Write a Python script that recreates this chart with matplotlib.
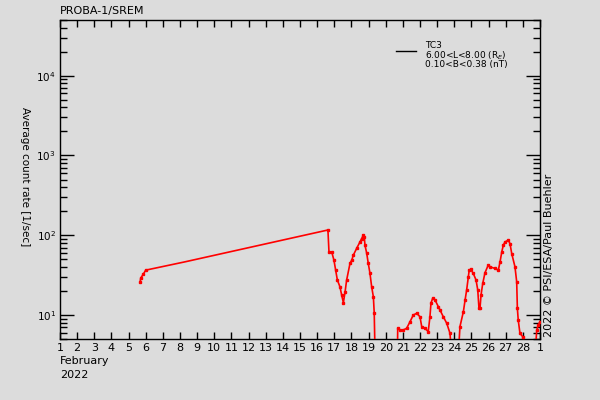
import math
import matplotlib
matplotlib.use('Agg')
import matplotlib.pyplot as plt
from matplotlib.lines import Line2D
from matplotlib.ticker import FixedLocator, LogLocator, NullFormatter, FuncFormatter

# day of February 2022 (29 = 1 March) and count rate [1/sec]
days = [5.67, 5.71, 5.86, 6.00, 8.29, 16.56, 16.63, 16.69, 16.85, 16.98,
        17.08, 17.18, 17.33, 17.43, 17.53, 17.63, 17.72, 17.92, 18.02, 18.11,
        18.31, 18.50, 18.60, 18.69, 18.75, 18.79, 18.89, 18.98, 19.08, 19.18,
        19.28, 19.33, 19.38, 20.68, 20.70, 20.83, 21.03, 21.22, 21.42, 21.61,
        21.81, 22.00, 22.10, 22.29, 22.48, 22.58, 22.64, 22.74, 22.88, 23.07,
        23.17, 23.36, 23.56, 23.75, 23.85, 24.23, 24.33, 24.53, 24.63, 24.72,
        24.82, 24.87, 24.96, 25.11, 25.27, 25.37, 25.44, 25.50, 25.56, 25.66,
        25.79, 25.98, 26.08, 26.38, 26.57, 26.67, 26.77, 26.86, 26.96, 27.15,
        27.25, 27.35, 27.54, 27.64, 27.68, 27.73, 27.83, 27.99, 28.02, 28.71,
        28.81, 28.90, 29.00]
rate = [25.8, 29.0, 32.5, 36.5, 46.4, 115.5, 115.5, 61.8, 61.8, 48.7,
        36.5, 27.4, 22.6, 17.8, 14.3, 19.5, 27.4, 44.7, 48.7, 56.2,
        68.8, 82.5, 91.0, 100.0, 95.2, 75.0, 59.6, 44.7, 33.5, 22.6,
        16.9, 10.6, 3.0, 3.0, 6.8, 6.5, 6.5, 6.8, 8.25, 10.0,
        10.5, 9.5, 7.14, 6.82, 6.18, 9.5, 14.1, 16.2, 15.4, 12.7,
        11.5, 9.5, 7.87, 5.9, 3.0, 3.0, 7.14, 11.0, 15.4, 20.5,
        30.1, 36.5, 37.3, 33.2, 27.4, 20.5, 12.1, 12.1, 17.8, 24.9,
        33.8, 42.2, 40.2, 38.3, 36.5, 46.4, 61.8, 75.0, 82.5, 86.6,
        78.7, 59.0, 40.2, 26.1, 12.1, 8.66, 5.9, 5.35, 3.0, 3.0,
        6.5, 7.5, 8.25]

day_labels = [str(d) for d in range(1, 29)] + ['1']
legend_lines = ['TC3', '6.00<L<8.00 (R$_E$)', '0.10<B<0.38 (nT)']

bg = '#dcdcdc'
fig = plt.figure(figsize=(6, 4), dpi=100, facecolor=bg)
ax = fig.add_axes([0.1, 0.1525, 0.8, 0.7975], facecolor=bg)

# straight interpolation segment has no markers, the rest does
ax.plot(days, rate, color='#ff0000', lw=1.2, zorder=3)
ax.plot(days[:4] + days[6:], rate[:4] + rate[6:], ls='none', marker='s',
        ms=2, color='#ff0000', zorder=4)

ax.set_yscale('log')
ax.set_xlim(1, 29)
ax.set_ylim(5, 5e4)

ax.xaxis.set_major_locator(FixedLocator(range(1, 30)))
ax.set_xticklabels(day_labels)
ax.yaxis.set_major_locator(LogLocator(base=10, numticks=10))
ax.yaxis.set_minor_locator(LogLocator(base=10, subs=range(2, 10), numticks=20))
ax.yaxis.set_minor_formatter(NullFormatter())
ax.yaxis.set_major_formatter(FuncFormatter(lambda v, p: '10$^{%d}$' % round(math.log10(v))))

ax.tick_params(axis='x', which='major', direction='in', length=5, width=1,
               top=True, bottom=True, labelsize=8, pad=3)
ax.tick_params(axis='y', which='major', direction='in', length=10, width=1,
               left=True, right=True, labelsize=7.5, pad=3)
ax.tick_params(axis='y', which='minor', direction='in', length=5, width=1,
               left=True, right=True)
for s in ax.spines.values():
    s.set_linewidth(1)
    s.set_color('black')

fig.text(25 / 600, 1 - 177 / 400, 'Average count rate [1/sec]', fontsize=7.5,
         rotation=270, va='center', ha='center')
fig.text(60 / 600, 1 - 11 / 400, 'PROBA-1/SREM', fontsize=8, va='center', ha='left')
fig.text(60 / 600, 1 - 361 / 400, 'February', fontsize=8, va='center', ha='left')
fig.text(60 / 600, 1 - 375 / 400, '2022', fontsize=8, va='center', ha='left')
fig.text(549 / 600, 1 - 337 / 400, '2022 \u00a9 PSI/ESA/Paul Buehler', fontsize=8,
         rotation=90, va='bottom', ha='center')

# legend, drawn by hand
fig.add_artist(Line2D([396 / 600, 416 / 600], [1 - 51 / 400, 1 - 51 / 400],
                      color='black', lw=1))
for i, txt in enumerate(legend_lines):
    fig.text(425 / 600, 1 - (46 + 9.5 * i) / 400, txt, fontsize=6.5, va='center', ha='left')

fig.savefig('out.png', dpi=100, facecolor=bg)
